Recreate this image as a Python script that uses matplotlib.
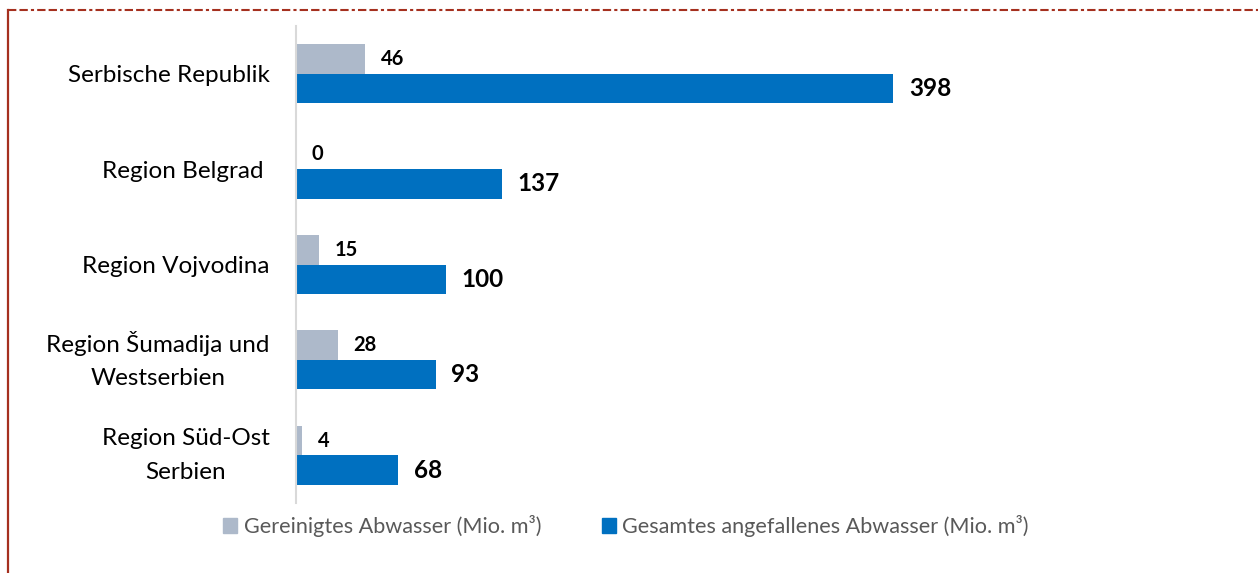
import matplotlib.pyplot as plt
import matplotlib.transforms as mtransforms
from matplotlib.lines import Line2D
from matplotlib.patches import Patch

# Data
categories = ["Serbische Republik", "Region Belgrad ", "Region Vojvodina",
              "Region Šumadija und\nWestserbien", "Region Süd-Ost\nSerbien"]
treated = [46, 0, 15, 28, 4]
total = [398, 137, 100, 93, 68]
series_names = ["Gereinigtes Abwasser (Mio. m³)", "Gesamtes angefallenes Abwasser (Mio. m³)"]

gray = "#ADB9CA"
blue = "#0070C0"
red = "#A5301F"

plt.rcParams["font.family"] = ["Lato", "DejaVu Sans"]

fig = plt.figure(figsize=(12.58, 5.73), dpi=100)
ax = fig.add_axes([296 / 1258, 70 / 573, (1230 - 296) / 1258, 477 / 573])

h = 0.31
ys = list(range(len(categories)))
ax.barh([y - h / 2 for y in ys], treated, height=h, color=gray)
ax.barh([y + h / 2 for y in ys], total, height=h, color=blue)

# value labels (offset in data units: 1 unit = 1.5 px)
for y, v in zip(ys, treated):
    ax.text(v + 10.5, y - h / 2, str(v), va="center", ha="left",
            fontsize=14.5, fontweight="bold", color="black")
for y, v in zip(ys, total):
    ax.text(v + 10.5, y + h / 2, str(v), va="center", ha="left",
            fontsize=17.5, fontweight="bold", color="black")

ax.set_xlim(0, (1230 - 296) / 1.5)
ax.set_ylim(len(categories) - 0.5, -0.5)
ax.set_yticks(ys)
ax.set_yticklabels(categories, fontsize=17.5, multialignment="center", linespacing=1.75)
ax.tick_params(axis="y", length=0, pad=19)
ax.set_xticks([])

# nudge two-line labels up a little so they sit centred on the group
shift = mtransforms.ScaledTranslation(0, 6 / 72, fig.dpi_scale_trans)
for lbl in ax.get_yticklabels():
    if "\n" in lbl.get_text():
        lbl.set_transform(lbl.get_transform() + shift)

for s in ["top", "right", "bottom"]:
    ax.spines[s].set_visible(False)
ax.spines["left"].set_color("#D9D9D9")
ax.spines["left"].set_linewidth(1.5)

handles = [Patch(color=gray), Patch(color=blue)]
fig.legend(handles, series_names, loc="center", bbox_to_anchor=(626 / 1258, 1 - 526 / 573),
           ncol=2, frameon=False, handlelength=0.65, handleheight=0.65,
           handletextpad=0.3, columnspacing=2.8,
           prop={"family": ["Lato", "DejaVu Sans"], "size": 15.6}, labelcolor="#595959")

# frame decoration
fig.add_artist(Line2D([8 / 1258, 8 / 1258], [0, 1 - 10 / 573], color=red, lw=1.6,
                      transform=fig.transFigure))
fig.add_artist(Line2D([8 / 1258, 1], [1 - 10 / 573, 1 - 10 / 573], color=red, lw=1.5,
                      dashes=(4, 1.5, 4, 1.5, 1.5, 1.5), transform=fig.transFigure))

plt.savefig("out.png", dpi=100)
plt.close()
